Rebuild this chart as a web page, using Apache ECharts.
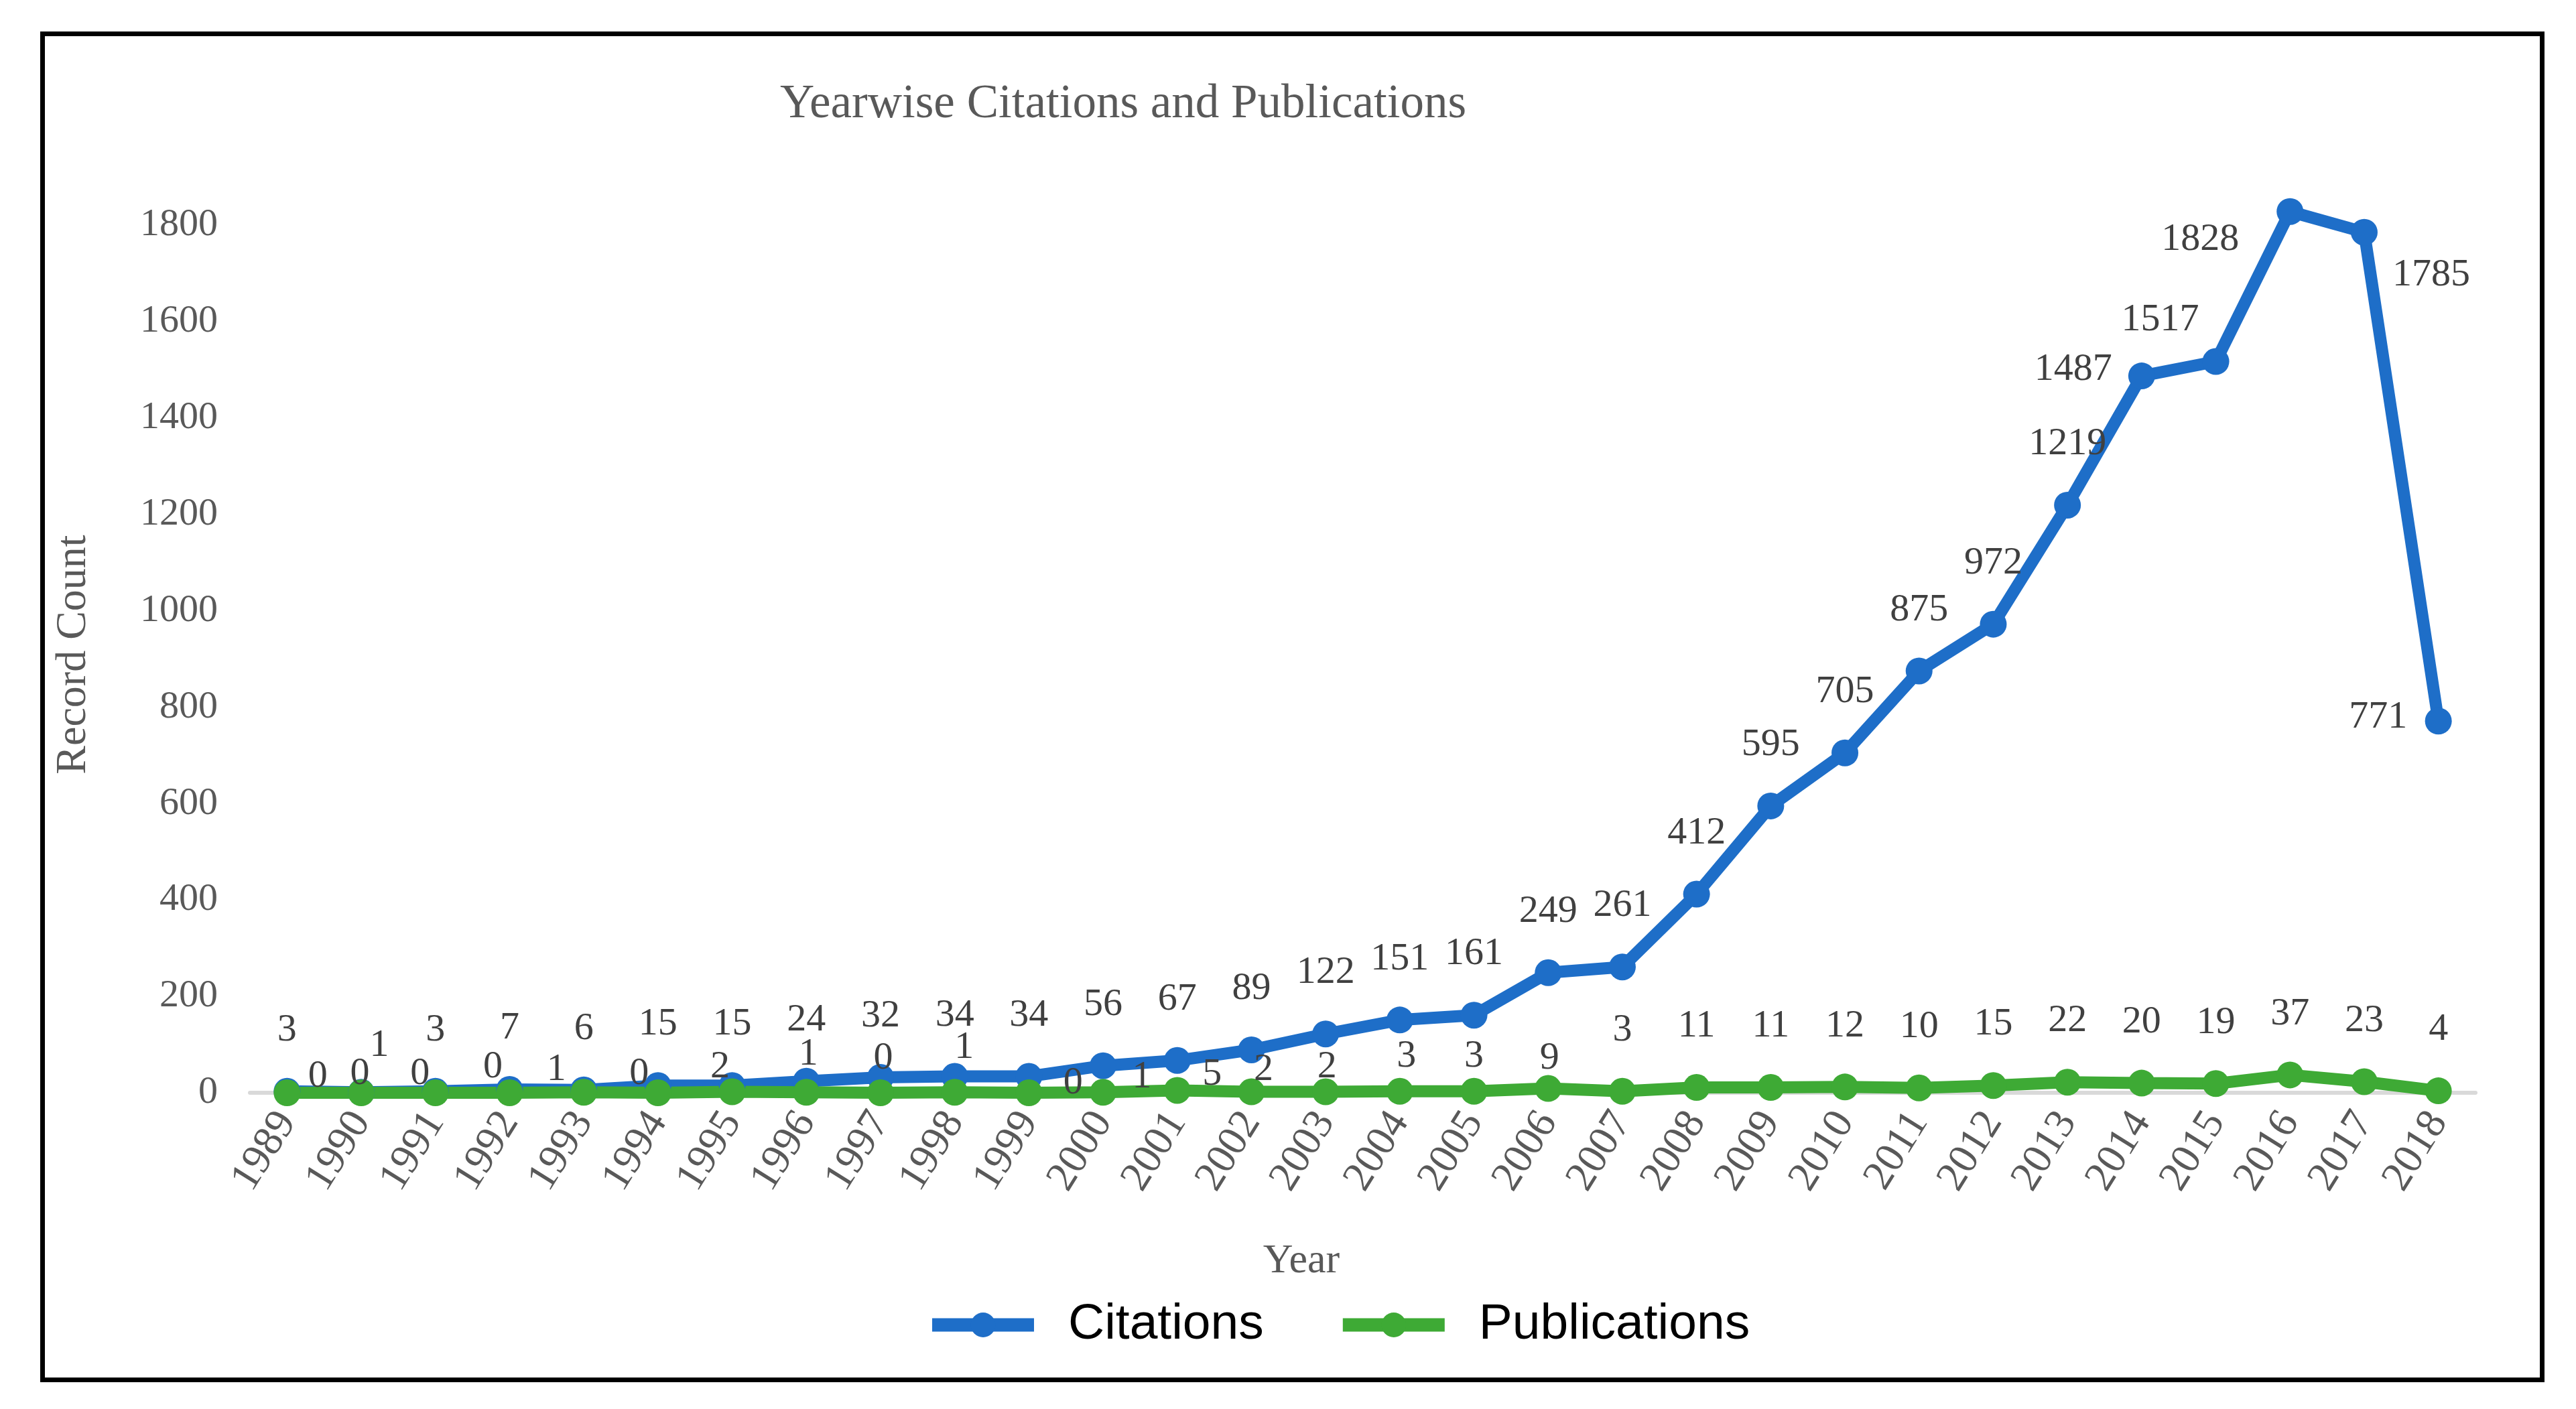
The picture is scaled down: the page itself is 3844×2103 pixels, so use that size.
<!DOCTYPE html>
<html>
<head>
<meta charset="utf-8">
<script src="https://cdn.jsdelivr.net/npm/echarts@6/dist/echarts.min.js"></script>
<style>
  html, body { margin: 0; padding: 0; background: #ffffff; }
  #chart { width: 3844px; height: 2103px; }
</style>
</head>
<body>
<div id="chart"></div>
<script>
// ---- data ----
const years = ['1989','1990','1991','1992','1993','1994','1995','1996','1997','1998',
               '1999','2000','2001','2002','2003','2004','2005','2006','2007','2008',
               '2009','2010','2011','2012','2013','2014','2015','2016','2017','2018'];
const citations = [3, 1, 3, 7, 6, 15, 15, 24, 32, 34,
                   34, 56, 67, 89, 122, 151, 161, 249, 261, 412,
                   595, 705, 875, 972, 1219, 1487, 1517, 1828, 1785, 771];
const publications = [0, 0, 0, 0, 1, 0, 2, 1, 0, 1,
                      0, 1, 5, 2, 2, 3, 3, 9, 3, 11,
                      11, 12, 10, 15, 22, 20, 19, 37, 23, 4];
const yTicks = [0, 200, 400, 600, 800, 1000, 1200, 1400, 1600, 1800];

// ---- label placement (offsets from the point centre, px) ----
const defaultOffset = [0, -91];
const citOffsets = { 1: [27, -70], 25: [-102, -9], 26: [-83, -62], 27: [-134, 42], 28: [100, 64], 29: [-90, -5] };
const pubOffsets = { 0: [46, -24], 1: [-2, -28], 2: [-23, -28], 3: [-25, -38], 4: [-41, -34], 5: [-28, -28],
                     6: [-18, -37], 7: [3, -57], 8: [4, -51], 9: [14, -67], 10: [66, -14], 11: [58, -23],
                     12: [52, -24], 13: [18, -33], 14: [2, -37], 15: [10, -52], 16: [0, -52], 17: [2, -45] };

const SERIF = '"Liberation Serif", "Times New Roman", serif';
const SANS = '"Liberation Sans", Arial, sans-serif';
const BLUE = '#1E6EC8';
const GREEN = '#3EAA35';

function withLabels(values, offsets) {
  return values.map((v, i) => ({
    value: v,
    label: { offset: offsets[i] || defaultOffset }
  }));
}

const chart = echarts.init(document.getElementById('chart'), null, { renderer: 'canvas' });

const labelStyle = {
  show: true,
  position: 'inside',
  fontFamily: SERIF,
  fontSize: 58,
  color: '#404040'
};

chart.setOption({
  animation: false,
  backgroundColor: '#ffffff',
  title: {
    text: 'Yearwise Citations and Publications',
    left: 1671,
    top: 116,
    textAlign: 'center',
    textStyle: { fontFamily: SERIF, fontSize: 71, fontWeight: 'normal', color: '#595959' }
  },
  legend: {
    data: ['Citations', 'Publications'],
    left: 1376,
    top: 1935,
    itemWidth: 152,
    itemHeight: 46,
    itemGap: 108,
    lineStyle: { width: 20 },
    textStyle: { fontFamily: SANS, fontSize: 75, color: '#000000', padding: [0, 0, 0, 46] }
  },
  grid: { left: 373, right: 150, top: 192, bottom: 472, containLabel: false },
  xAxis: {
    type: 'category',
    data: years,
    boundaryGap: true,
    axisLine: { show: true, lineStyle: { color: '#D9D9D9', width: 6 } },
    axisTick: { show: false },
    axisLabel: {
      interval: 0,
      rotate: 58,
      margin: 34,
      fontFamily: SERIF,
      fontSize: 63,
      color: '#595959'
    },
    splitLine: { show: false }
  },
  yAxis: {
    type: 'value',
    min: 0,
    max: 2000,
    interval: 200,
    axisLine: { show: false },
    axisTick: { show: false },
    splitLine: { show: false },
    axisLabel: {
      margin: 48,
      fontFamily: SERIF,
      fontSize: 58,
      color: '#595959',
      formatter: function (v) { return yTicks.indexOf(v) >= 0 ? String(v) : ''; }
    }
  },
  graphic: [
    {
      type: 'rect',
      silent: true,
      shape: { x: 63.5, y: 50.5, width: 3730, height: 2009 },
      style: { fill: 'none', stroke: '#000000', lineWidth: 7 },
      z: 100
    },
    {
      type: 'text',
      silent: true,
      x: 1942, y: 1883,
      style: { text: 'Year', fontFamily: SERIF, fontSize: 62, fill: '#595959', align: 'center', verticalAlign: 'middle' }
    },
    {
      type: 'text',
      silent: true,
      x: 110, y: 977,
      rotation: Math.PI / 2,
      style: { text: 'Record Count', fontFamily: SERIF, fontSize: 64, fill: '#595959', align: 'center', verticalAlign: 'middle' }
    }
  ],
  series: [
    {
      name: 'Citations',
      type: 'line',
      data: withLabels(citations, citOffsets),
      symbol: 'circle',
      symbolSize: 40,
      lineStyle: { color: BLUE, width: 18 },
      itemStyle: { color: BLUE },
      label: labelStyle
    },
    {
      name: 'Publications',
      type: 'line',
      data: withLabels(publications, pubOffsets),
      symbol: 'circle',
      symbolSize: 40,
      lineStyle: { color: GREEN, width: 18 },
      itemStyle: { color: GREEN },
      label: labelStyle
    }
  ]
});
</script>
</body>
</html>
